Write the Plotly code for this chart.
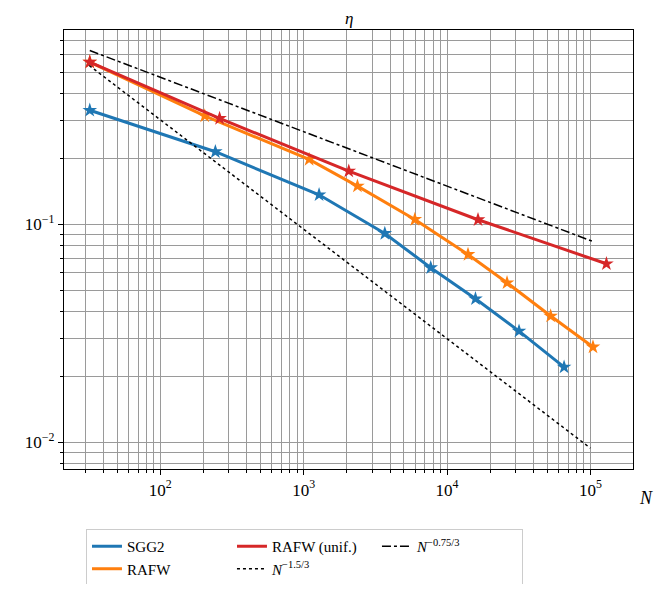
import plotly.graph_objects as go

# ---- data ----
sgg2_N = [32.2, 242, 1280, 3680, 7690, 15780, 31770, 65500]
sgg2_eta = [0.334, 0.2156, 0.1368, 0.0909, 0.0633, 0.0456, 0.0324, 0.02215]

rafw_N = [32.2, 204, 1091, 2371, 5960, 14000, 26200, 52800, 104200]
rafw_eta = [0.556, 0.3147, 0.1987, 0.1499, 0.1054, 0.0728, 0.054, 0.038, 0.0274]

unif_N = [32.2, 259, 2063, 16440, 129300]
unif_eta = [0.556, 0.3064, 0.1756, 0.1051, 0.0660]

ref15_N = [31.9, 100000]
ref15_eta = [0.536, 0.00941]

ref075_N = [32.2, 104200]
ref075_eta = [0.628, 0.0835]

x_major = [1e2, 1e3, 1e4, 1e5]
x_major_text = ["10<sup>2</sup>", "10<sup>3</sup>", "10<sup>4</sup>", "10<sup>5</sup>"]
y_major = [1e-2, 1e-1]
y_major_text = ["10<sup>\u22122</sup>", "10<sup>\u22121</sup>"]

FONT = "Liberation Serif, DejaVu Serif, serif"
blue, orange, red = "#1f77b4", "#ff7f0e", "#d62728"

fig = go.Figure()

def series(x, y, name, color, rank):
    fig.add_trace(go.Scatter(
        x=x, y=y, name=name, mode="lines",
        line=dict(color=color, width=3), legendrank=rank,
    ))
    fig.add_trace(go.Scatter(
        x=x, y=y, name=name, mode="markers", showlegend=False,
        marker=dict(symbol="star", size=11, color=color),
    ))

series(sgg2_N, sgg2_eta, "SGG2", blue, 1)
series(rafw_N, rafw_eta, "RAFW", orange, 4)
series(unif_N, unif_eta, "RAFW (unif.)", red, 2)

fig.add_trace(go.Scatter(
    x=ref15_N, y=ref15_eta, mode="lines", name="<i>N</i><sup>\u22121.5/3</sup>",
    line=dict(color="black", width=1.5, dash="dot"), legendrank=5,
))
fig.add_trace(go.Scatter(
    x=ref075_N, y=ref075_eta, mode="lines", name="<i>N</i><sup>\u22120.75/3</sup>",
    line=dict(color="black", width=1.5, dash="dashdot"), legendrank=3,
))

def minors(lo, hi):
    vals = []
    for e in range(lo, hi):
        for d in range(2, 10):
            vals.append(d * 10.0 ** e)
    return vals

grid_col = "#9a9a9a"
axis_common = dict(
    type="log", showline=True, linecolor="black", linewidth=1.2, mirror=True,
    ticks="outside", ticklen=5, tickwidth=1, tickcolor="black",
    showgrid=True, gridcolor=grid_col, gridwidth=1, zeroline=False,
    tickfont=dict(family=FONT, size=17, color="black"), automargin=False,
)

fig.update_xaxes(
    **axis_common, range=[1.328, 5.297],
    tickmode="array", tickvals=x_major, ticktext=x_major_text,
    minor=dict(tickmode="array", tickvals=minors(1, 6), ticks="outside", ticklen=3,
               tickcolor="black", showgrid=True, gridcolor=grid_col, gridwidth=1),
)
fig.update_yaxes(
    **axis_common, range=[-2.122, -0.108],
    tickmode="array", tickvals=y_major, ticktext=y_major_text,
    minor=dict(tickmode="array", tickvals=minors(-3, 0), ticks="outside", ticklen=3,
               tickcolor="black", showgrid=True, gridcolor=grid_col, gridwidth=1),
)

fig.add_annotation(text="<i>\u03b7</i>", xref="paper", yref="paper", x=0.5, y=1,
                   yanchor="bottom", yshift=0, showarrow=False,
                   font=dict(family=FONT, size=17, color="black"))
fig.add_annotation(text="<i>N</i>", xref="paper", yref="paper", x=1.0, y=0,
                   xanchor="center", yanchor="middle", xshift=13, yshift=-29, showarrow=False,
                   font=dict(family=FONT, size=18, color="black"))

fig.update_layout(
    width=646, height=576,
    margin=dict(l=56, r=21, t=22, b=115),
    plot_bgcolor="white", paper_bgcolor="white",
    font=dict(family=FONT, size=15, color="black"),
    legend=dict(
        orientation="h", xref="container", yref="container",
        x=0.1207, y=0.0955, xanchor="left", yanchor="top",
        entrywidth=100, bordercolor="#cccccc", borderwidth=1, bgcolor="white",
        font=dict(family=FONT, size=15, color="black"), tracegroupgap=0,
    ),
    showlegend=True,
)

fig.write_html("out.html")
